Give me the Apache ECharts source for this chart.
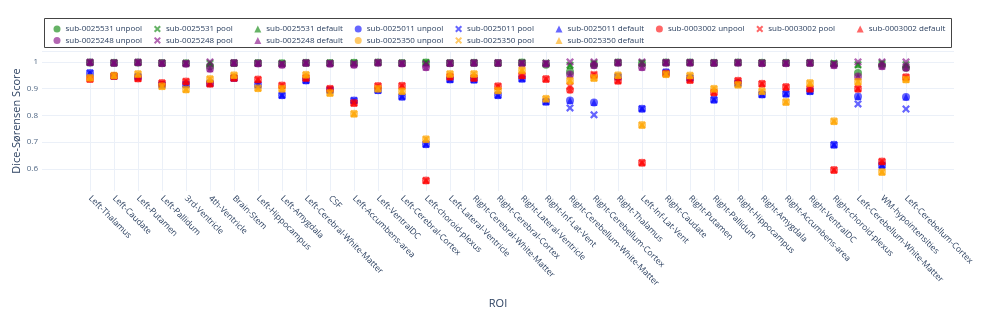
<!DOCTYPE html>
<html>
<head>
<meta charset="utf-8">
<script src="https://cdn.jsdelivr.net/npm/echarts@6/dist/echarts.min.js"></script>
<style>html,body{margin:0;padding:0;background:#fff}#c{width:997px;height:315px}</style>
</head>
<body>
<div id="c"></div>
<script>
const categories = ['Left-Thalamus','Left-Caudate','Left-Putamen','Left-Pallidum','3rd-Ventricle','4th-Ventricle','Brain-Stem','Left-Hippocampus','Left-Amygdala','Left-Cerebral-White-Matter','CSF','Left-Accumbens-area','Left-VentralDC','Left-Cerebral-Cortex','Left-choroid-plexus','Left-Lateral-Ventricle','Right-Cerebral-White-Matter','Right-Cerebral-Cortex','Right-Lateral-Ventricle','Right-Inf-Lat-Vent','Right-Cerebellum-White-Matter','Right-Cerebellum-Cortex','Right-Thalamus','Left-Inf-Lat-Vent','Right-Caudate','Right-Putamen','Right-Pallidum','Right-Hippocampus','Right-Amygdala','Right-Accumbens-area','Right-VentralDC','Right-choroid-plexus','Left-Cerebellum-White-Matter','WM-hypointensities','Left-Cerebellum-Cortex'];

const sub0025531_unpool  = [0.998,0.997,0.998,0.996,0.995,0.984,0.996,0.996,0.995,0.997,0.996,0.997,0.998,0.996,0.998,0.996,0.997,0.996,0.998,0.990,0.963,0.990,0.998,0.994,0.998,0.998,0.997,0.998,0.997,0.997,0.997,0.992,0.959,0.990,0.978];
const sub0025531_pool    = [0.998,0.997,0.998,0.996,0.995,0.995,0.996,0.996,0.995,0.997,0.996,0.997,0.998,0.996,0.998,0.996,0.997,0.996,0.998,0.996,0.988,0.995,0.998,0.996,0.998,0.998,0.997,0.998,0.997,0.997,0.997,0.995,0.990,0.995,0.990];
const sub0025531_default = [0.998,0.997,0.998,0.996,0.995,0.995,0.996,0.996,0.995,0.997,0.996,0.997,0.998,0.996,0.998,0.996,0.997,0.996,0.998,0.996,0.988,0.995,0.998,0.996,0.998,0.998,0.997,0.998,0.997,0.997,0.997,0.995,0.990,0.995,0.990];

const sub0025011_unpool  = [0.959,0.947,0.945,0.915,0.916,0.920,0.940,0.915,0.875,0.931,0.895,0.856,0.894,0.870,0.692,0.934,0.933,0.875,0.937,0.851,0.856,0.848,0.945,0.825,0.961,0.940,0.859,0.920,0.878,0.881,0.890,0.690,0.871,0.613,0.869];
const sub0025011_pool    = [0.959,0.947,0.945,0.915,0.916,0.920,0.940,0.915,0.875,0.931,0.895,0.856,0.894,0.870,0.692,0.934,0.933,0.875,0.937,0.851,0.828,0.802,0.945,0.825,0.961,0.940,0.859,0.920,0.878,0.881,0.890,0.690,0.843,0.613,0.824];
const sub0025011_default = [0.959,0.947,0.945,0.915,0.916,0.920,0.940,0.915,0.875,0.931,0.895,0.856,0.894,0.870,0.692,0.934,0.933,0.875,0.937,0.851,0.856,0.848,0.945,0.825,0.961,0.940,0.859,0.920,0.878,0.881,0.890,0.690,0.871,0.613,0.869];

const sub0003002_unpool  = [0.936,0.947,0.938,0.921,0.927,0.918,0.940,0.934,0.912,0.940,0.900,0.846,0.910,0.911,0.556,0.945,0.940,0.909,0.949,0.936,0.896,0.950,0.930,0.623,0.957,0.932,0.886,0.930,0.918,0.906,0.900,0.596,0.900,0.627,0.943];
const sub0003002_pool    = [0.936,0.947,0.938,0.921,0.927,0.918,0.940,0.934,0.912,0.940,0.900,0.846,0.910,0.911,0.556,0.945,0.940,0.909,0.949,0.936,0.909,0.953,0.930,0.623,0.957,0.932,0.886,0.930,0.918,0.906,0.900,0.596,0.900,0.627,0.943];
const sub0003002_default = [0.936,0.947,0.938,0.921,0.927,0.918,0.940,0.934,0.912,0.940,0.900,0.846,0.910,0.911,0.556,0.945,0.940,0.909,0.949,0.936,0.896,0.950,0.930,0.623,0.957,0.932,0.886,0.930,0.918,0.906,0.900,0.596,0.900,0.627,0.943];

const sub0025248_unpool  = [0.998,0.996,0.998,0.995,0.993,0.975,0.996,0.994,0.990,0.996,0.993,0.990,0.997,0.994,0.980,0.995,0.996,0.996,0.994,0.993,0.953,0.988,0.997,0.980,0.997,0.997,0.996,0.997,0.995,0.995,0.996,0.988,0.946,0.984,0.978];
const sub0025248_pool    = [0.999,0.997,0.999,0.996,0.995,1.000,0.997,0.995,0.993,0.997,0.995,0.994,0.998,0.995,0.992,0.996,0.997,0.997,0.996,0.995,1.000,1.000,0.998,1.000,0.998,0.998,0.997,0.998,0.996,0.996,0.997,0.993,1.000,1.000,1.000];
const sub0025248_default = [0.998,0.996,0.998,0.995,0.993,0.975,0.996,0.994,0.990,0.996,0.993,0.990,0.997,0.994,0.980,0.995,0.996,0.996,0.994,0.993,0.953,0.988,0.997,0.980,0.997,0.997,0.996,0.997,0.995,0.995,0.996,0.988,0.946,0.984,0.978];

const sub0025350_unpool  = [0.941,0.949,0.955,0.909,0.897,0.936,0.950,0.902,0.900,0.952,0.884,0.806,0.900,0.890,0.711,0.955,0.955,0.893,0.969,0.862,0.930,0.940,0.950,0.764,0.954,0.949,0.900,0.915,0.890,0.850,0.921,0.778,0.926,0.588,0.934];
const sub0025350_pool    = [0.941,0.949,0.955,0.909,0.897,0.936,0.950,0.902,0.900,0.952,0.884,0.806,0.900,0.890,0.711,0.955,0.955,0.893,0.969,0.862,0.930,0.940,0.950,0.764,0.954,0.949,0.900,0.915,0.890,0.850,0.921,0.778,0.926,0.588,0.934];
const sub0025350_default = [0.941,0.949,0.955,0.909,0.897,0.936,0.950,0.902,0.900,0.952,0.884,0.806,0.900,0.890,0.711,0.955,0.955,0.893,0.969,0.862,0.930,0.940,0.950,0.764,0.954,0.949,0.900,0.915,0.890,0.850,0.921,0.778,0.926,0.588,0.934];

const PAD = 2;
const axisData = [];
for (let i = 0; i < PAD; i++) axisData.push(' '.repeat(i + 1));
categories.forEach(c => axisData.push(c));
for (let i = 0; i < PAD; i++) axisData.push('\u00a0'.repeat(i + 1));

const X_PATH = 'path://M0,2 L2,0 L5,3 L8,0 L10,2 L7,5 L10,8 L8,10 L5,7 L2,10 L0,8 L3,5 Z';
const symbols = { unpool: 'circle', pool: X_PATH, 'default': 'triangle' };
const sizes = { unpool: 8, pool: 8, 'default': 7 };

const subjects = [
  ['sub-0025531', '#008000', { unpool: sub0025531_unpool, pool: sub0025531_pool, 'default': sub0025531_default }],
  ['sub-0025011', '#0000ff', { unpool: sub0025011_unpool, pool: sub0025011_pool, 'default': sub0025011_default }],
  ['sub-0003002', '#ff0000', { unpool: sub0003002_unpool, pool: sub0003002_pool, 'default': sub0003002_default }],
  ['sub-0025248', '#800080', { unpool: sub0025248_unpool, pool: sub0025248_pool, 'default': sub0025248_default }],
  ['sub-0025350', '#ffa500', { unpool: sub0025350_unpool, pool: sub0025350_pool, 'default': sub0025350_default }]
];

const series = [];
subjects.forEach(([name, color, vals]) => {
  ['unpool', 'pool', 'default'].forEach(kind => {
    series.push({
      name: name + ' ' + kind,
      type: 'scatter',
      symbol: symbols[kind],
      symbolSize: sizes[kind],
      itemStyle: { color: color, opacity: 0.6 },
      emphasis: { disabled: true },
      data: categories.map((c, i) => [c, vals[kind][i]])
    });
  });
});

const FONT = '"Open Sans", "DejaVu Sans", sans-serif';
const chart = echarts.init(document.getElementById('c'), null, { renderer: 'canvas' });
chart.setOption({
  animation: false,
  backgroundColor: '#fff',
  textStyle: { fontFamily: FONT },
  graphic: [{
    type: 'rect',
    shape: { x: 44.5, y: 18.5, width: 907, height: 29 },
    style: { fill: 'none', stroke: '#444', lineWidth: 1 },
    z: 10
  }],
  legend: {
    left: 53.5,
    top: 23.5,
    width: 910,
    itemWidth: 7,
    itemHeight: 7,
    itemGap: 0.4,
    padding: 0,
    selectedMode: false,
    textStyle: { fontSize: 8, color: '#2a3f5f', width: 88, lineHeight: 11, fontFamily: FONT, padding: [0, 0, 0, 0] },
    data: series.map(s => s.name)
  },
  grid: { left: 42, right: 43, top: 51, bottom: 124, containLabel: false },
  xAxis: {
    type: 'category',
    data: axisData,
    boundaryGap: false,
    name: 'ROI',
    nameLocation: 'middle',
    nameGap: 107,
    nameMoveOverlap: false,
    nameTextStyle: { fontSize: 11, color: '#2a3f5f' },
    axisLine: { show: false },
    axisTick: { show: false },
    axisLabel: { interval: 0, rotate: -45, fontSize: 8.5, color: '#2a3f5f', margin: 6 },
    splitLine: {
      show: true,
      interval: function (idx) { return idx >= PAD && idx < PAD + categories.length; },
      lineStyle: { color: '#ebf0f8', width: 1 }
    }
  },
  yAxis: {
    type: 'value',
    min: 0.517,
    max: 1.041,
    name: 'Dice-Sørensen Score',
    nameLocation: 'middle',
    nameGap: 20,
    nameMoveOverlap: false,
    nameTextStyle: { fontSize: 11, color: '#2a3f5f' },
    axisLine: { show: false },
    axisTick: { show: false },
    axisLabel: { showMinLabel: false, showMaxLabel: false, fontSize: 8, color: '#506784', margin: 4 },
    splitLine: { show: true, lineStyle: { color: ['rgba(0,0,0,0)', '#ebf0f8', '#ebf0f8', '#ebf0f8', '#ebf0f8', '#ebf0f8', '#ebf0f8'], width: 1 } }
  },
  series: series
});
</script>
</body>
</html>
